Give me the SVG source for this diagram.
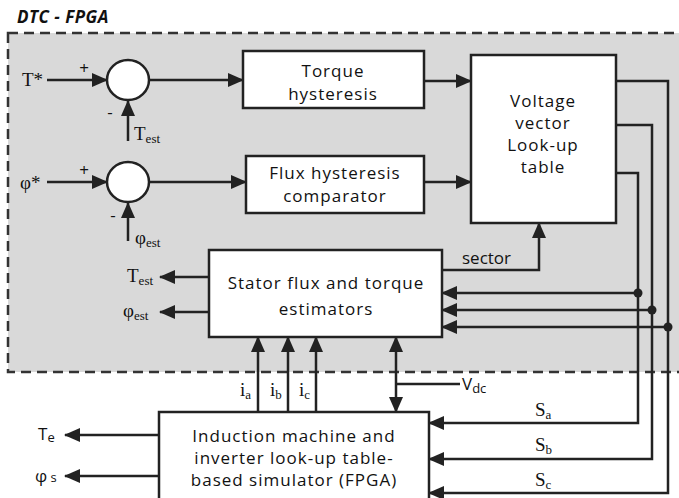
<svg xmlns="http://www.w3.org/2000/svg" width="679" height="498" viewBox="0 0 679 498">
<defs>
<marker id="ah" markerUnits="userSpaceOnUse" markerWidth="16" markerHeight="14" refX="15" refY="7" orient="auto-start-reverse" viewBox="0 0 16 14"><path d="M0,0 L16,7 L0,14 z" fill="#222"/></marker>
</defs>
<style>
.box{fill:#fff;stroke:#222;stroke-width:2.5}
.ln{fill:none;stroke:#222;stroke-width:2.5}
.ar{fill:none;stroke:#222;stroke-width:2.5;marker-end:url(#ah)}
.bt{font-family:"Open Sans","Liberation Sans",sans-serif;font-size:17px;letter-spacing:1px;fill:#111;text-anchor:middle}
.sf{font-family:"Liberation Serif",serif;font-size:19px;fill:#111}
.ss{font-family:"Open Sans","Liberation Sans",sans-serif;font-size:17px;fill:#111}
.sub{font-size:13px}
</style>
<rect x="0" y="0" width="679" height="498" fill="#fff"/>
<rect x="8" y="33" width="690" height="339" fill="#d9d9d9" stroke="#333" stroke-width="2.5" stroke-dasharray="10,6"/>
<text x="17" y="23" font-family="Open Sans,Liberation Sans,sans-serif" font-size="17" font-weight="bold" font-style="italic" letter-spacing="0.5" fill="#111">DTC - FPGA</text>

<g id="connectors">
<path class="ar" d="M47,80 H107"/>
<path class="ar" d="M128,141 V101"/>
<path class="ar" d="M149,80 H243"/>
<path class="ar" d="M47,182 H107"/>
<path class="ar" d="M128,241 V203"/>
<path class="ar" d="M149,182 H246"/>
<path class="ar" d="M424,81 H471"/>
<path class="ar" d="M424,182 H471"/>
<path class="ar" d="M442,270 H539 V223"/>
<path class="ar" d="M209,277 H160"/>
<path class="ar" d="M209,312 H160"/>
<path class="ar" d="M616,81 H668 V493 H429"/>
<path class="ar" d="M616,125 H652 V459 H429"/>
<path class="ar" d="M616,173 H638 V423 H429"/>
<path class="ar" d="M638,293 H442"/>
<path class="ar" d="M652,310 H442"/>
<path class="ar" d="M668,327 H442"/>
<circle cx="638" cy="293" r="4.5" fill="#222"/>
<circle cx="652" cy="310" r="4.5" fill="#222"/>
<circle cx="668" cy="327" r="4.5" fill="#222"/>
<path class="ar" d="M258,412 V337"/>
<path class="ar" d="M288,412 V337"/>
<path class="ar" d="M316,412 V337"/>
<path class="ln" d="M396,337 V412" marker-start="url(#ah)" marker-end="url(#ah)"/>
<path class="ln" d="M396,384 H460"/>
<path class="ar" d="M159,435 H65"/>
<path class="ar" d="M159,476 H65"/>
</g>

<g id="sum1">
<ellipse cx="128" cy="80" rx="21" ry="20" class="box"/>
<text x="84" y="74" class="ss" font-size="18" text-anchor="middle">+</text>
<text x="110" y="118" class="ss" font-size="18" text-anchor="middle">-</text>
</g>
<g id="sum2">
<ellipse cx="128" cy="182" rx="21" ry="20" class="box"/>
<text x="84" y="176" class="ss" font-size="18" text-anchor="middle">+</text>
<text x="113" y="221" class="ss" font-size="18" text-anchor="middle">-</text>
</g>

<g id="torque">
<rect x="243" y="51" width="181" height="57" class="box"/>
<text x="333" y="77" class="bt">Torque</text>
<text x="333" y="100" class="bt">hysteresis</text>
</g>
<g id="flux">
<rect x="246" y="156" width="178" height="57" class="box"/>
<text x="335" y="179" class="bt">Flux hysteresis</text>
<text x="335" y="202" class="bt">comparator</text>
</g>
<g id="voltage">
<rect x="471" y="55" width="145" height="168" class="box"/>
<text x="543" y="107" class="bt">Voltage</text>
<text x="543" y="129" class="bt">vector</text>
<text x="543" y="151" class="bt">Look-up</text>
<text x="543" y="173" class="bt">table</text>
</g>
<g id="stator">
<rect x="209" y="250" width="233" height="87" class="box"/>
<text x="326" y="289" class="bt">Stator flux and torque</text>
<text x="326" y="315" class="bt">estimators</text>
</g>
<g id="induction">
<rect x="159" y="412" width="270" height="90" class="box"/>
<text x="294" y="442" class="bt">Induction machine and</text>
<text x="294" y="464" class="bt">inverter look-up table-</text>
<text x="294" y="486" class="bt">based simulator (FPGA)</text>
</g>

<g id="labels">
<text x="22" y="86" class="sf">T*</text>
<text x="20" y="189" class="sf" font-size="24">φ<tspan font-size="19">*</tspan></text>
<text x="134" y="140" class="sf">T<tspan class="sub" dy="3">est</tspan></text>
<text x="135" y="244" class="sf" font-size="24">φ<tspan class="sub" dy="3">est</tspan></text>
<text x="127" y="282" class="sf">T<tspan class="sub" dy="3">est</tspan></text>
<text x="123" y="317" class="sf" font-size="24">φ<tspan class="sub" dy="3">est</tspan></text>
<text x="462" y="264" class="ss">sector</text>
<text x="240" y="396" class="sf">i<tspan class="sub" dy="3">a</tspan></text>
<text x="270" y="396" class="sf">i<tspan class="sub" dy="3">b</tspan></text>
<text x="299" y="396" class="sf">i<tspan class="sub" dy="3">c</tspan></text>
<text x="462" y="390" class="ss">V<tspan class="sub" dy="3">dc</tspan></text>
<text x="535" y="416" class="sf">S<tspan class="sub" dy="3">a</tspan></text>
<text x="535" y="451" class="sf">S<tspan class="sub" dy="3">b</tspan></text>
<text x="535" y="486" class="sf">S<tspan class="sub" dy="3">c</tspan></text>
<text x="38" y="440" class="ss">T<tspan class="sub" dy="2">e</tspan></text>
<text x="35" y="482" class="ss" font-size="20">φ<tspan class="sub" dy="0"> s</tspan></text>
</g>
</svg>
